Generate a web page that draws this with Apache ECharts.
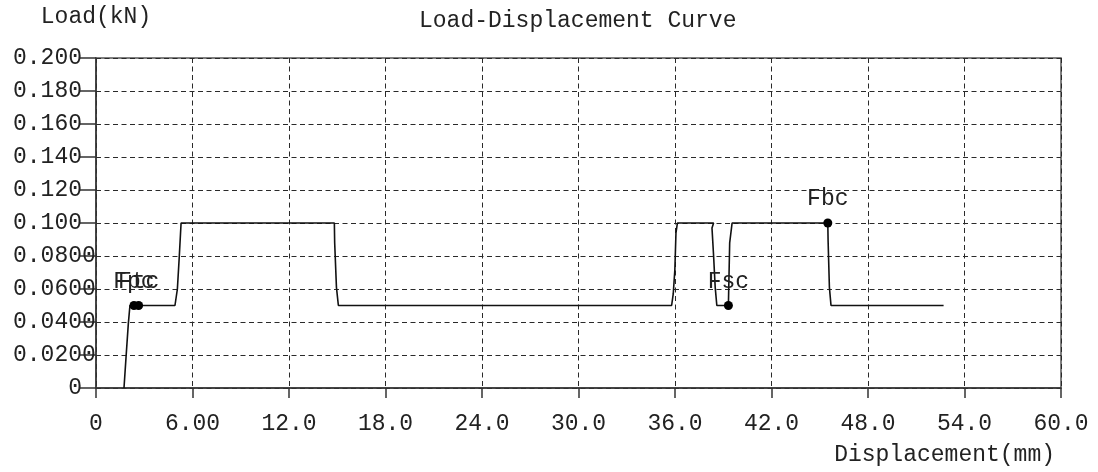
<!DOCTYPE html>
<html>
<head>
<meta charset="utf-8">
<script src="https://cdn.jsdelivr.net/npm/echarts@6/dist/echarts.min.js"></script>
<style>
  html, body { margin: 0; padding: 0; background: #fff; }
  #main { width: 1098px; height: 472px; }
</style>
</head>
<body>
<div id="main"></div>
<script>
// curve: displacement (mm) / load (kN)
var dispValues = [1.74, 1.87, 2.01, 2.11, 2.36, 2.65, 4.91, 5.06, 5.18, 5.29,
  14.82, 14.84, 14.95, 15.07, 35.79, 35.89, 35.99, 36.06, 36.15,
  38.4, 38.3, 38.4, 38.5, 38.6, 39.32, 39.4, 39.55, 45.5, 45.52, 45.6, 45.7, 52.7];
var loadValues = [0, 0.019, 0.039, 0.05, 0.05, 0.05, 0.05, 0.06, 0.08, 0.1,
  0.1, 0.088, 0.061, 0.05, 0.05, 0.057, 0.0715, 0.094, 0.1,
  0.1, 0.097, 0.08, 0.061, 0.05, 0.05, 0.088, 0.1, 0.1, 0.089, 0.061, 0.05, 0.05];

// marked points
var markNames = ['Fpc', 'Ftc', 'Fsc', 'Fbc'];
var markDisp = [2.36, 2.65, 39.32, 45.5];
var markLoad = [0.05, 0.05, 0.05, 0.1];

// tick labels as printed
var xTickLabels = ['0', '6.00', '12.0', '18.0', '24.0', '30.0', '36.0', '42.0', '48.0', '54.0', '60.0'];
var yTickLabels = ['0', '0.0200', '0.0400', '0.0600', '0.0800', '0.100', '0.120', '0.140', '0.160', '0.180', '0.200'];

var FONT = '"Liberation Mono", "DejaVu Sans Mono", monospace';
var FS = 23;

var chart = echarts.init(document.getElementById('main'));

var lineData = dispValues.map(function (d, i) { return [d, loadValues[i]]; });
var markData = markDisp.map(function (d, i) { return { name: markNames[i], value: [d, markLoad[i]] }; });

var option = {
  animation: false,
  backgroundColor: '#fff',
  title: {
    text: 'Load-Displacement Curve',
    left: 414,
    top: 4,
    textStyle: { fontFamily: FONT, fontSize: FS, fontWeight: 'normal', color: '#222' }
  },
  grid: {
    left: 96, right: 37, top: 58, bottom: 84,
    show: true,
    borderColor: '#555',
    borderWidth: 1.5
  },
  xAxis: {
    type: 'value',
    min: 0, max: 60, interval: 6,
    name: 'Displacement(mm)',
    nameLocation: 'end',
    nameGap: -6,
    nameTextStyle: {
      fontFamily: FONT, fontSize: FS, color: '#222',
      align: 'right', verticalAlign: 'top', padding: [55, 0, 0, 0]
    },
    axisLine: { lineStyle: { color: '#333', width: 1.5 } },
    axisTick: { length: 10, lineStyle: { color: '#333', width: 1.5 } },
    axisLabel: {
      margin: 24,
      fontFamily: FONT, fontSize: FS, color: '#222',
      showMaxLabel: true, showMinLabel: true,
      formatter: function (v) { return xTickLabels[Math.round(v / 6)]; }
    },
    splitLine: { show: true, lineStyle: { color: '#2a2a2a', type: [5, 3.5], width: 1 } }
  },
  yAxis: {
    type: 'value',
    min: 0, max: 0.2, interval: 0.02,
    name: 'Load(kN)',
    nameLocation: 'end',
    nameGap: 30,
    nameTextStyle: { fontFamily: FONT, fontSize: FS, color: '#222', align: 'center' },
    axisLine: { show: true, lineStyle: { color: '#333', width: 1.5 } },
    axisTick: { show: true, length: 16, lineStyle: { color: '#333', width: 1.5 } },
    axisLabel: {
      align: 'left',
      margin: 83,
      fontFamily: FONT, fontSize: FS, color: '#222',
      formatter: function (v) {
        var s = yTickLabels[Math.round(v / 0.02)];
        while (s.length < 5) s = ' ' + s;
        return s;
      }
    },
    splitLine: { show: true, lineStyle: { color: '#2a2a2a', type: [5, 3.5], width: 1 } }
  },
  series: [
    {
      type: 'line',
      data: lineData,
      showSymbol: false,
      lineStyle: { color: '#111', width: 1.6 },
      z: 3
    },
    {
      type: 'scatter',
      data: markData,
      symbolSize: 9,
      itemStyle: { color: '#000', opacity: 1 },
      label: {
        show: true,
        position: 'top',
        distance: 8,
        formatter: '{b}',
        fontFamily: FONT, fontSize: FS, color: '#222'
      },
      z: 4
    }
  ]
};

chart.setOption(option);
</script>
</body>
</html>
